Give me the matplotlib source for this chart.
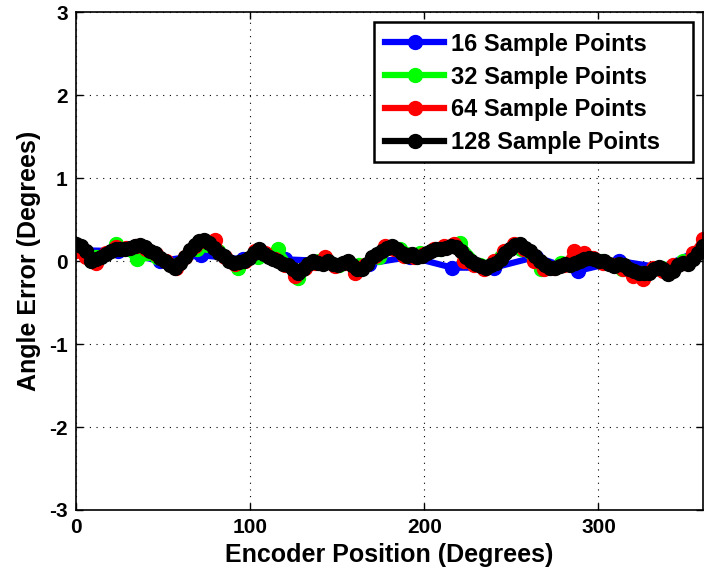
import numpy as np
import matplotlib.pyplot as plt
from matplotlib.patches import Rectangle

plt.rcParams['font.family'] = ['Liberation Sans', 'DejaVu Sans']
plt.rcParams['font.weight'] = 'bold'
plt.rcParams['axes.unicode_minus'] = False

# angle error, one list per sample count
err_16 = [0.13, 0.12, 0.0, 0.07, 0.02, 0.02, 0.0, -0.03, 0.05, -0.08, -0.08, 0.05,
          -0.12, 0.0, -0.08, 0.15]
err_32 = [0.18, 0.05, 0.2, 0.02, 0.05, -0.05, 0.15, 0.12, -0.08, 0.05,
          0.15, -0.2, 0.0, -0.05, -0.05, 0.05, 0.15, 0.1, 0.15, 0.22,
          -0.05, 0.05, 0.15, -0.1, -0.02, 0.02, 0.0, -0.1, -0.15, -0.08,
          0.0, 0.15]
err_64 = [0.12, 0.05, -0.02, 0.10, 0.17, 0.16, 0.18, 0.15, 0.08, 0.0,
          -0.08, 0.05, 0.18, 0.24, 0.25, 0.05, -0.04, 0.0, 0.12, 0.10,
          0.02, -0.05, -0.18, -0.08, -0.02, 0.05, -0.06, -0.02, -0.15, -0.05,
          0.06, 0.18, 0.14, 0.06, 0.05, 0.08, 0.14, 0.18, 0.20, 0.0,
          -0.05, -0.10, 0.0, 0.12, 0.20, 0.15, 0.0, -0.10, -0.08, -0.05,
          0.12, 0.10, 0.04, -0.02, -0.05, -0.10, -0.18, -0.22, -0.08, -0.12,
          -0.05, -0.02, 0.10, 0.27]
err_128 = [0.20, 0.18, 0.12, 0.0, 0.02, 0.05, 0.08, 0.12, 0.14, 0.15,
           0.15, 0.16, 0.18, 0.19, 0.17, 0.12, 0.10, 0.04, 0.0, -0.05,
           -0.09, -0.02, 0.05, 0.13, 0.19, 0.24, 0.25, 0.22, 0.16, 0.1,
           0.06, 0.0, -0.02, -0.01, 0.0, 0.04, 0.10, 0.15, 0.08, 0.05,
           0.03, 0.0, -0.03, -0.05, -0.10, -0.14, -0.10, -0.04, 0.0, -0.02,
           -0.04, 0.0, -0.04, -0.05, -0.02, 0.0, -0.05, -0.10, -0.10, -0.03,
           0.05, 0.08, 0.12, 0.16, 0.18, 0.15, 0.10, 0.06, 0.08, 0.05,
           0.06, 0.10, 0.12, 0.14, 0.14, 0.16, 0.18, 0.17, 0.12, 0.05,
           0.0, -0.03, -0.06, -0.08, -0.05, -0.02, 0.03, 0.10, 0.15, 0.19,
           0.20, 0.16, 0.12, 0.06, 0.0, -0.05, -0.08, -0.09, -0.06, -0.03,
           -0.05, -0.02, 0.0, 0.02, 0.04, 0.02, 0.0, 0.0, -0.04, -0.06,
           -0.03, -0.05, -0.10, -0.12, -0.14, -0.15, -0.14, -0.10, -0.07, -0.10,
           -0.16, -0.12, -0.05, -0.02, -0.04, 0.02, 0.10, 0.18]

series = [(err_16, 'b', '16 Sample Points'),
          (err_32, '#00ff00', '32 Sample Points'),
          (err_64, 'r', '64 Sample Points'),
          (err_128, 'k', '128 Sample Points')]

fig = plt.figure(figsize=(7.04, 5.74), dpi=100)
ax = fig.add_axes([0.108, 0.1115, 0.8905, 0.8675])

for vals, col, lab in series:
    pos = np.linspace(0, 360, len(vals))
    ax.plot(pos, vals, color=col, lw=4.5, marker='o', ms=10, label=lab)

ax.set_xlim(0, 360)
ax.set_ylim(-3, 3)
ax.set_xticks([0, 100, 200, 300])
ax.set_yticks([-3, -2, -1, 0, 1, 2, 3])
ax.tick_params(direction='in', labelsize=15, width=1, length=5, top=True, right=True, pad=6)
ax.grid(True, color='k', linestyle=(0, (1, 5)), lw=0.8)
for s in ax.spines.values():
    s.set_linewidth(1.2)

ax.set_xlabel('Encoder Position (Degrees)', fontsize=18, fontweight='bold', labelpad=4)
ax.set_ylabel('Angle Error (Degrees)', fontsize=18, fontweight='bold', labelpad=6)

# matlab-style legend box with wide right padding
box = Rectangle((0.476, 0.699), 0.508, 0.281, transform=ax.transAxes,
                facecolor='white', edgecolor='k', lw=1.8, zorder=4)
ax.add_patch(box)
leg = ax.legend(loc='upper left', fontsize=17, handlelength=2.5, handletextpad=0.3,
                frameon=False, borderpad=0.45, labelspacing=0.42, borderaxespad=0,
                bbox_to_anchor=(0.476, 0.98))
leg.set_zorder(5)
for t in leg.get_texts():
    t.set_fontweight('bold')

fig.savefig('out.png', dpi=100)
